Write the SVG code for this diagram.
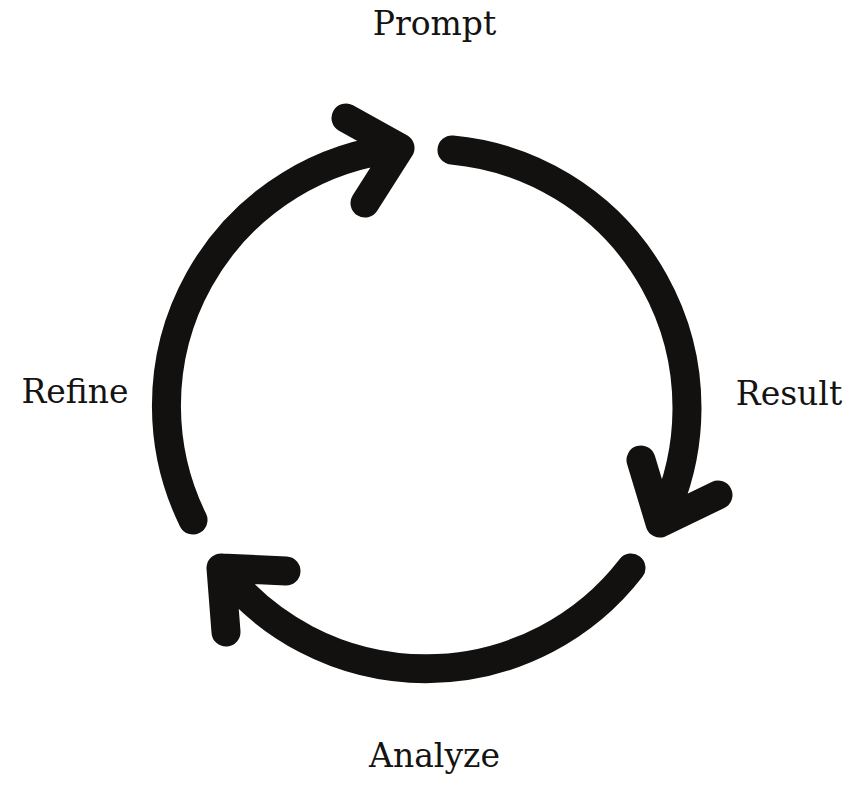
<svg xmlns="http://www.w3.org/2000/svg" width="866" height="785" viewBox="0 0 866 785">
<style>
.lbl{font-family:"DejaVu Serif","Liberation Serif",serif;font-size:33px;fill:#141312;text-anchor:middle}
.arc{fill:none;stroke:#121110;stroke-width:29;stroke-linecap:round;stroke-linejoin:round}
</style>
<rect width="866" height="785" fill="#ffffff"/>
<g id="connectors">
<path class="arc" d="M452,150 A259,259 0 0 1 660,523 M641,460 L660,523 L718,495"/>
<path class="arc" d="M631,568 A259,259 0 0 1 221,568 M286,571 L221,568 L226,632"/>
<path class="arc" d="M193,520 A259,259 0 0 1 400,148 M346,118 L400,148 L365,203"/>
</g>
<g id="prompt"><text class="lbl" x="434.5" y="35">Prompt</text></g>
<g id="result"><text class="lbl" x="789" y="405">Result</text></g>
<g id="analyze"><text class="lbl" x="434.5" y="767">Analyze</text></g>
<g id="refine"><text class="lbl" x="75" y="403">Refine</text></g>
</svg>
